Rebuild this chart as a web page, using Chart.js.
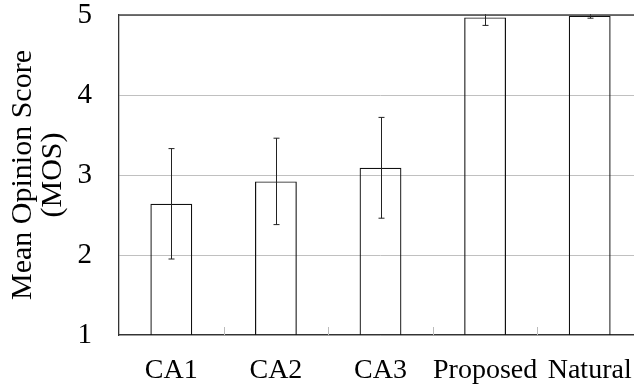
<!DOCTYPE html>
<html>
<head>
<meta charset="utf-8">
<script src="https://cdn.jsdelivr.net/npm/chart.js@4/dist/chart.umd.min.js"></script>
<style>
    html, body { margin: 0; padding: 0; background: #fff; overflow: hidden; }
    .wrap { width: 642px; height: 387px; }
</style>
</head>
<body>
<div class="wrap"><canvas id="mosChart"></canvas></div>
<script>
// 数据
const categories = ['CA1', 'CA2', 'CA3', 'Proposed', 'Natural'];
const mosMeans = [2.64, 2.92, 3.09, 4.97, 4.99];
const mosErrors = [0.69, 0.54, 0.63, 0.10, 0.03];
const yTicks = [1, 2, 3, 4, 5];

const serif = "'Liberation Serif', 'Times New Roman', serif";

// 误差线
const errorBars = {
    id: 'errorBars',
    afterDatasetsDraw(chart) {
        const ctx = chart.ctx;
        const x = chart.scales.x;
        const y = chart.scales.y;
        const area = chart.chartArea;
        ctx.save();
        ctx.beginPath();
        ctx.rect(area.left, area.top - 1, area.right - area.left, area.bottom - area.top + 1);
        ctx.clip();
        ctx.strokeStyle = '#222';
        ctx.lineWidth = 1;
        mosMeans.forEach((m, i) => {
            const px = Math.round(x.getPixelForValue(i)) + 0.5;
            const top = y.getPixelForValue(m + mosErrors[i]);
            const bot = y.getPixelForValue(m - mosErrors[i]);
            ctx.beginPath();
            ctx.moveTo(px, top);
            ctx.lineTo(px, bot);
            ctx.moveTo(px - 3, top);
            ctx.lineTo(px + 3, top);
            ctx.moveTo(px - 3, bot);
            ctx.lineTo(px + 3, bot);
            ctx.stroke();
        });
        ctx.restore();
    }
};

// 分类边界的小刻度 + 顶部边框
const frame = {
    id: 'frame',
    afterDatasetsDraw(chart) {
        const ctx = chart.ctx;
        const x = chart.scales.x;
        const area = chart.chartArea;
        ctx.save();
        ctx.strokeStyle = '#bbb';
        ctx.lineWidth = 1;
        for (let i = 0; i < categories.length; i++) {
            const px = Math.round((x.getPixelForValue(i) + x.getPixelForValue(i + 1)) / 2) + 0.5;
            ctx.beginPath();
            ctx.moveTo(px, area.bottom);
            ctx.lineTo(px, area.bottom - 8);
            ctx.stroke();
        }
        ctx.strokeStyle = '#444';
        ctx.lineWidth = 1.3;
        ctx.beginPath();
        ctx.moveTo(area.left, area.top);
        ctx.lineTo(area.right, area.top);
        ctx.stroke();
        ctx.restore();
    }
};

new Chart(document.getElementById('mosChart'), {
    type: 'bar',
    data: {
        labels: categories,
        datasets: [{
            data: mosMeans,
            backgroundColor: 'transparent',
            borderColor: '#111',
            borderWidth: 1.2,
            barPercentage: 0.4,
            categoryPercentage: 1.0
        }]
    },
    options: {
        responsive: true,
        maintainAspectRatio: false,
        animation: false,
        layout: { padding: { top: 15, left: 0, right: 0, bottom: 0 } },
        plugins: {
            legend: { display: false },
            tooltip: { enabled: false }
        },
        scales: {
            x: {
                grid: { display: false, drawTicks: false },
                border: { display: true, color: '#333', width: 1.3 },
                ticks: {
                    color: '#000',
                    padding: 19,
                    autoSkip: false,
                    maxRotation: 0,
                    minRotation: 0,
                    font: { family: serif, size: 28 }
                },
                afterFit(scale) {
                    scale.height = 52;
                    scale.paddingLeft = 0;
                    scale.paddingRight = 0;
                }
            },
            y: {
                min: 1,
                max: 5,
                afterBuildTicks(scale) {
                    scale.ticks = yTicks.map(v => ({ value: v }));
                },
                grid: { color: '#c0c0c0', drawTicks: false },
                border: { display: true, color: '#333', width: 1.3 },
                ticks: {
                    color: '#000',
                    padding: 27,
                    font: { family: serif, size: 29 }
                },
                title: {
                    display: true,
                    text: ['Mean Opinion Score', '(MOS)'],
                    color: '#000',
                    font: { family: serif, size: 30, lineHeight: 1.0 },
                    padding: { top: 8, bottom: 0 }
                },
                afterFit(scale) {
                    scale.width = 119;
                    scale.paddingTop = 0;
                    scale.paddingBottom = 0;
                }
            }
        }
    },
    plugins: [errorBars, frame]
});
</script>
</body>
</html>
